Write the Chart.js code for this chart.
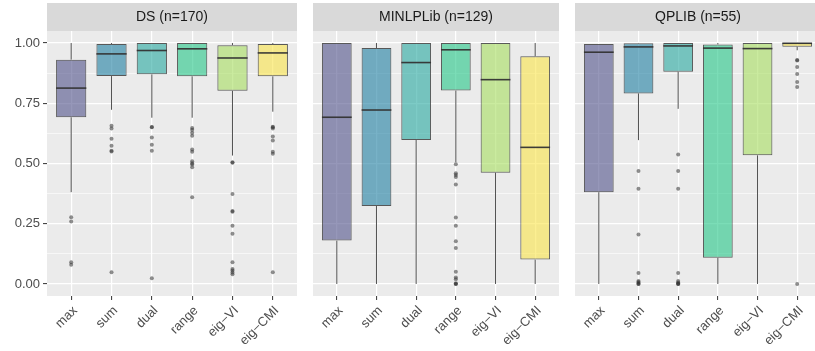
<!DOCTYPE html>
<html><head><meta charset="utf-8">
<script src="https://cdn.jsdelivr.net/npm/chart.js@4"></script>
<style>
html,body{margin:0;padding:0;background:#fff;overflow:hidden;width:815px;height:351px;position:relative;}
canvas{position:absolute;top:0;}
</style></head><body>
<canvas id="c0" width="301" height="351" style="left:0px"></canvas>
<canvas id="c1" width="254" height="351" style="left:309px"></canvas>
<canvas id="c2" width="254" height="351" style="left:571px"></canvas>
<script>
const categories = ['max', 'sum', 'dual', 'range', 'eig\u2212VI', 'eig\u2212CMI'];
const panelTitles = ['DS (n=170)', 'MINLPLib (n=129)', 'QPLIB (n=55)'];
const yTickValues = [0, 0.125, 0.25, 0.375, 0.5, 0.625, 0.75, 0.875, 1];
const yMajorTicks = [0, 0.25, 0.5, 0.75, 1];

// [lower whisker, Q1, median, Q3, upper whisker] per category
const dsStats = [
  [0.381, 0.692, 0.813, 0.931, 1.0],
  [0.723, 0.863, 0.955, 0.996, 1.0],
  [0.690, 0.870, 0.969, 1.0, 1.0],
  [0.690, 0.862, 0.976, 1.0, 1.0],
  [0.533, 0.802, 0.938, 0.991, 1.0],
  [0.715, 0.862, 0.959, 0.996, 1.0]
];
const dsOutliers = [
  [0.277, 0.259, 0.090, 0.080],
  [0.657, 0.645, 0.603, 0.574, 0.553, 0.550, 0.049],
  [0.652, 0.650, 0.608, 0.578, 0.553, 0.024],
  [0.647, 0.640, 0.628, 0.615, 0.558, 0.549, 0.509, 0.501, 0.496, 0.484, 0.360],
  [0.505, 0.503, 0.373, 0.303, 0.300, 0.242, 0.208, 0.090, 0.062, 0.056, 0.048, 0.040],
  [0.653, 0.650, 0.645, 0.612, 0.595, 0.549, 0.540, 0.049]
];
const minlpStats = [
  [0.0, 0.180, 0.692, 1.0, 1.0],
  [0.0, 0.324, 0.722, 0.979, 1.0],
  [0.0, 0.598, 0.919, 1.0, 1.0],
  [0.505, 0.803, 0.972, 1.0, 1.0],
  [0.0, 0.462, 0.848, 1.0, 1.0],
  [0.0, 0.101, 0.567, 0.945, 1.0]
];
const minlpOutliers = [
  [], [], [],
  [0.497, 0.460, 0.452, 0.444, 0.413, 0.276, 0.242, 0.177, 0.149, 0.051, 0.027, 0.020, 0.003, 0.0, 0.0],
  [], []
];
const qplibStats = [
  [0.0, 0.381, 0.962, 0.996, 0.996],
  [0.597, 0.791, 0.984, 0.999, 1.0],
  [0.727, 0.881, 0.988, 1.0, 1.0],
  [0.0, 0.109, 0.979, 0.994, 1.0],
  [0.0, 0.534, 0.977, 1.0, 1.0],
  [0.970, 0.985, 0.999, 1.0, 1.0]
];
const qplibOutliers = [
  [],
  [0.469, 0.395, 0.205, 0.045, 0.012, 0.008, 0.004, 0.0, 0.0],
  [0.537, 0.469, 0.395, 0.045, 0.012, 0.006, 0.002, 0.0, 0.0],
  [],
  [],
  [0.930, 0.928, 0.901, 0.872, 0.838, 0.818, 0.0]
];
const boxColors = ['rgba(80,82,138,0.6)', 'rgba(30,127,162,0.6)', 'rgba(38,168,160,0.6)',
                   'rgba(35,198,135,0.6)', 'rgba(167,222,95,0.6)', 'rgba(250,228,73,0.6)'];

const FONT = '"Liberation Sans", Arial, Helvetica, sans-serif';

const panelPlugin = {
  id: 'panel',
  beforeDraw(chart, args, opts) {
    const {ctx, chartArea: a} = chart;
    ctx.save();
    ctx.fillStyle = '#EBEBEB';
    ctx.fillRect(a.left, a.top, a.right - a.left, a.bottom - a.top);
    ctx.fillStyle = '#D9D9D9';
    ctx.fillRect(a.left, 3, a.right - a.left, a.top - 3);
    ctx.fillStyle = '#1A1A1A';
    ctx.font = '14px ' + FONT;
    ctx.textAlign = 'center';
    ctx.textBaseline = 'middle';
    ctx.fillText(opts.title, (a.left + a.right) / 2, (3 + a.top) / 2 + 0.5);
    ctx.restore();
  }
};

function makeChart(id, p, stats, outliers, showY) {
  const boxes = stats.map((s, i) => ({x: i + 1, y: [s[1], s[3]]}));
  const whiskers = [];
  stats.forEach((s, i) => {
    whiskers.push({x: i + 1, y: s[0]}, {x: i + 1, y: s[1]}, {x: i + 1, y: null},
                  {x: i + 1, y: s[3]}, {x: i + 1, y: s[4]}, {x: i + 1, y: null});
  });
  const medians = stats.map((s, i) => ({x: i + 1, y: s[2]}));
  const pts = [];
  outliers.forEach((o, i) => o.forEach(v => pts.push({x: i + 1, y: v})));
  const halfBox = (c) => {
    const xs = c.chart.scales.x;
    return Math.abs(xs.getPixelForValue(1.375) - xs.getPixelForValue(1));
  };
  return new Chart(document.getElementById(id), {
    type: 'bar',
    data: {
      datasets: [
        {type: 'scatter', data: pts, order: 0, pointRadius: 2, pointBorderWidth: 0,
         pointBackgroundColor: 'rgba(51,51,51,0.55)', pointBorderColor: 'rgba(0,0,0,0)'},
        {type: 'scatter', data: medians, order: 1, pointStyle: 'line', pointRadius: halfBox,
         pointBorderWidth: 1.6, pointBorderColor: 'rgba(51,51,51,0.95)'},
        {type: 'bar', data: boxes, order: 2, backgroundColor: boxColors,
         borderColor: 'rgba(51,51,51,0.8)', borderWidth: 1, borderSkipped: false,
         barPercentage: 0.75, categoryPercentage: 1, grouped: false},
        {type: 'line', data: whiskers, order: 3, borderColor: 'rgba(51,51,51,0.85)', borderWidth: 1,
         pointRadius: 0, spanGaps: false, fill: false}
      ]
    },
    options: {
      responsive: false,
      animation: false,
      events: [],
      layout: {padding: {top: 31, right: 1, left: 0, bottom: 0}},
      plugins: {legend: {display: false}, tooltip: {enabled: false}, panel: {title: panelTitles[p]}},
      scales: {
        x: {
          type: 'linear', min: 0.4, max: 6.6, offset: false,
          afterBuildTicks: s => { s.ticks = categories.map((_, i) => ({value: i + 1})); },
          afterFit: s => { s.height = 55; },
          ticks: {callback: v => categories[Math.round(v) - 1], autoSkip: false,
                  maxRotation: 45, minRotation: 45, color: '#4D4D4D',
                  font: {size: 13, family: FONT}, padding: 3, labelOffset: 4},
          grid: {offset: false, color: '#FFFFFF', lineWidth: 1.2, tickColor: '#333333', tickLength: 4, tickWidth: 1},
          border: {display: false}
        },
        y: {
          min: -0.05, max: 1.05,
          afterBuildTicks: s => { s.ticks = yTickValues.map(v => ({value: v})); },
          afterFit: s => { s.width = showY ? 47 : 0; },
          ticks: {display: showY, autoSkip: false, color: '#4D4D4D', padding: 3,
                  font: {size: 13, family: FONT},
                  callback: v => (yMajorTicks.includes(v) ? v.toFixed(2) : '')},
          grid: {offset: false, color: '#FFFFFF', drawTicks: showY, tickLength: 4, tickWidth: 1,
                 lineWidth: c => (yMajorTicks.includes(c.tick && c.tick.value) ? 1.2 : 0.6),
                 tickColor: c => (yMajorTicks.includes(c.tick && c.tick.value) ? '#333333' : 'rgba(0,0,0,0)')},
          border: {display: false}
        }
      }
    },
    plugins: [panelPlugin]
  });
}

makeChart('c0', 0, dsStats, dsOutliers, true);
makeChart('c1', 1, minlpStats, minlpOutliers, false);
makeChart('c2', 2, qplibStats, qplibOutliers, false);
</script></body></html>
